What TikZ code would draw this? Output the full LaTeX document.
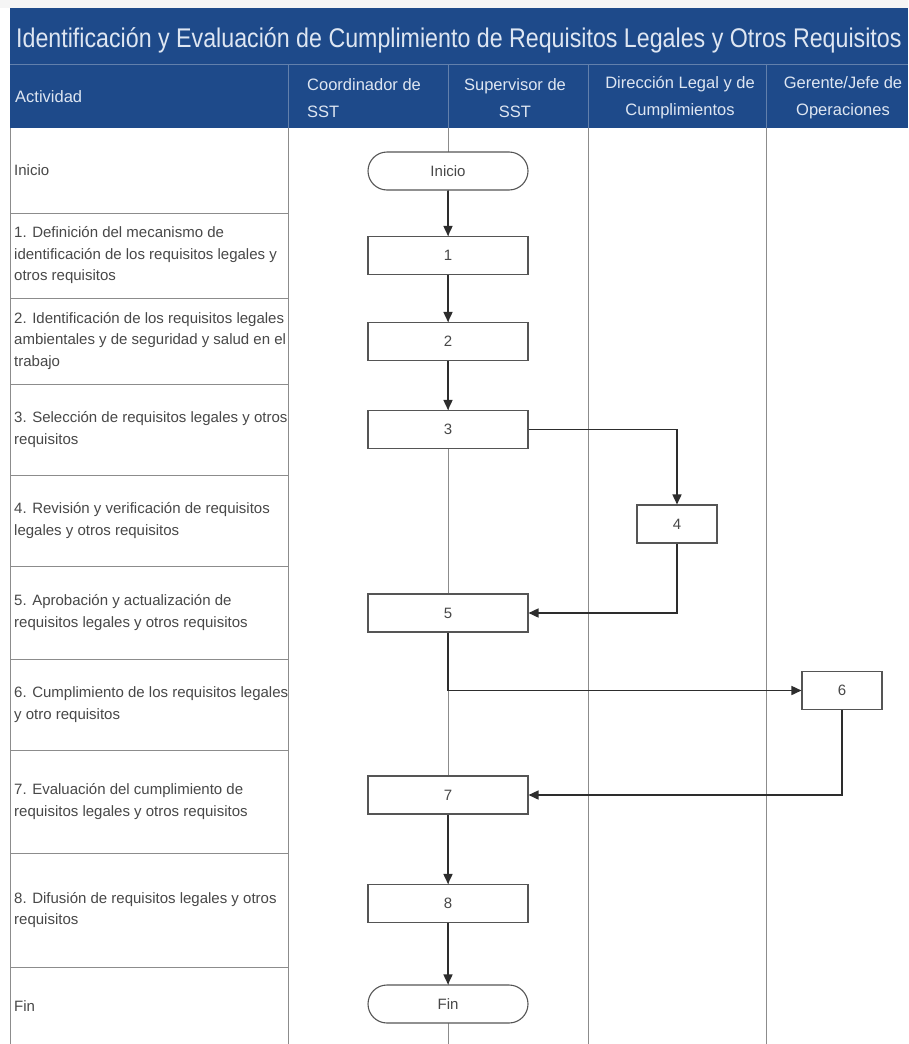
\documentclass[tikz,border=0pt]{standalone}
\usepackage{fontspec}
\setmainfont{Liberation Sans}
\usepackage{graphicx}
\usepackage{tikz}
\usetikzlibrary{arrows.meta,calc,positioning,shapes.misc}
\definecolor{bandblue}{RGB}{30,74,138}
\definecolor{hdrline}{RGB}{98,128,172}
\definecolor{hdrtext}{RGB}{222,230,242}
\definecolor{lanegray}{RGB}{140,140,140}
\definecolor{boxgray}{RGB}{85,85,85}
\definecolor{arrgray}{RGB}{45,45,45}
\definecolor{txtgray}{RGB}{72,72,72}
\tikzset{proc/.style={draw=boxgray,line width=1.1pt,fill=white,minimum width=160pt,minimum height=38pt,inner sep=0pt,
    font=\fontsize{15}{18}\selectfont,text=txtgray},
  small/.style={proc,minimum width=80pt},
  term/.style={proc,rounded rectangle},
  lane/.style={draw=lanegray,line width=0.9pt},
  arr/.style={-{Triangle[length=10pt,width=9pt]},line width=1.6pt,draw=arrgray},
  act/.style={anchor=west,align=left,inner sep=0pt,font=\fontsize{15}{21.5}\selectfont,text=txtgray},
  hdr/.style={inner sep=0pt,font=\fontsize{16.5}{27}\selectfont,text=hdrtext}}

\begin{document}
\begin{tikzpicture}[x=1pt,y=-1pt]
\clip (0,0) rectangle (908,1044);
\fill[white] (0,0) rectangle (908,1044);
\fill[gray!8] (0,0) rectangle (908,8);
% encabezado
\fill[bandblue] (10,8) rectangle (908,128);
\draw[hdrline,line width=1pt] (10,64) -- (908,64);
\foreach \x in {288,448,588,766} \draw[hdrline,line width=1pt] (\x,64) -- (\x,128);
\node[hdr,anchor=base west,font=\fontsize{27}{30}\selectfont] (title) at (16,47)
  {\scalebox{0.86}[1]{Identificación y Evaluación de Cumplimiento de Requisitos Legales y Otros Requisitos}};
\node[hdr,anchor=west] (hact) at (15,97) {Actividad};
\node[hdr,anchor=west,align=left] (hcoord) at (307,98) {Coordinador de\\SST};
\node[hdr,align=center] (hsup) at (515,98) {Supervisor de\\SST};
\node[hdr,align=center] (hdir) at (680,98) {Dirección Legal y de\\Cumplimientos};
\node[hdr,align=center] (hger) at (843,98) {Gerente/Jefe de\\Operaciones};
% carriles
\foreach \y in {213,298,384,475,566,659,750,853,967} \draw[lane] (10,\y) -- (288,\y);
\foreach \x in {10,288,448,588,766} \draw[lane] (\x,128) -- (\x,1044);
\foreach \y/\t [count=\k] in {170.5/{Inicio},
  255.5/{1. Definición del mecanismo de\\identificación de los requisitos legales y\\otros requisitos},
  341/{2. Identificación de los requisitos legales\\ambientales y de seguridad y salud en el\\trabajo},
  429.5/{3. Selección de requisitos legales y otros\\requisitos},
  520.5/{4. Revisión y verificación de requisitos\\legales y otros requisitos},
  612.5/{5. Aprobación y actualización de\\requisitos legales y otros requisitos},
  704.5/{6. Cumplimiento de los requisitos legales\\y otro requisitos},
  801.5/{7. Evaluación del cumplimiento de\\requisitos legales y otros requisitos},
  910/{8. Difusión de requisitos legales y otros\\requisitos},
  1006/{Fin}}
  \node[act] (act\k) at (14,\y) {\t};
% flujo
\node[term] (ini) at (448,171) {Inicio};
\node[proc] (p1) at (448,255.5) {1};
\node[proc] (p2) at (448,341.5) {2};
\node[proc] (p3) at (448,429.5) {3};
\node[small] (p4) at (677,524) {4};
\node[proc] (p5) at (448,613) {5};
\node[small] (p6) at (842,690.5) {6};
\node[proc] (p7) at (448,795) {7};
\node[proc] (p8) at (448,903.5) {8};
\node[term] (fin) at (448,1004) {Fin};
\draw[arr] (ini) -- (p1);
\draw[arr] (p1) -- (p2);
\draw[arr] (p2) -- (p3);
\draw[arr] (p3.east) -| (p4.north);
\draw[arr] (p4.south) |- (p5.east);
\draw[arr] (p5.south) |- (p6.west);
\draw[arr] (p6.south) |- (p7.east);
\draw[arr] (p7) -- (p8);
\draw[arr] (p8) -- (fin);
\end{tikzpicture}
\end{document}
